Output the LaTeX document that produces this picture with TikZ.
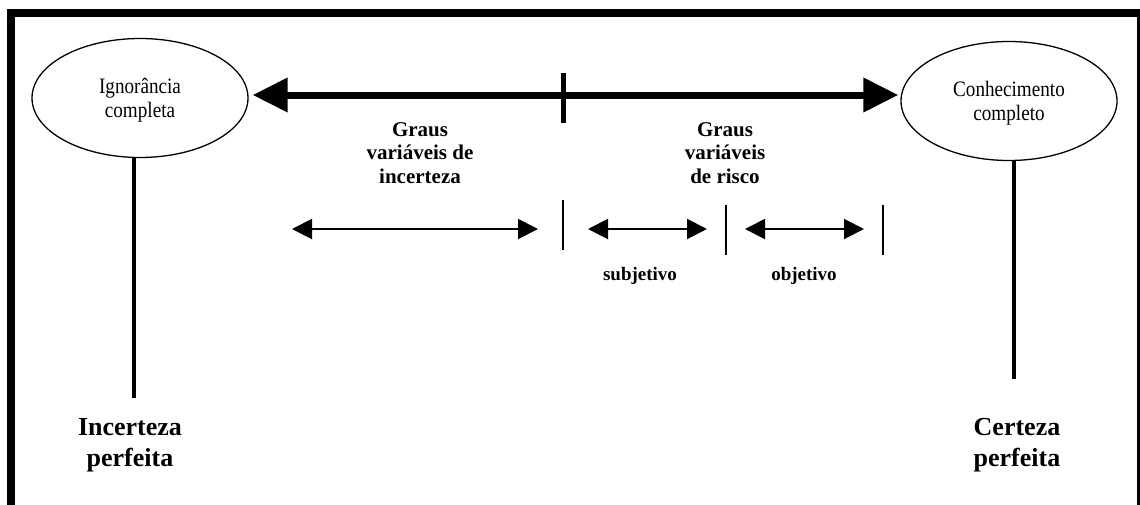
\documentclass[tikz,border=0pt]{standalone}
\usepackage{fontspec}
\setmainfont{Liberation Serif}
\newfontfamily\polefont[FakeStretch=0.87]{Liberation Serif}
\usetikzlibrary{arrows.meta,shapes.geometric}
\tikzset{
  x=1pt, y=-1pt,
  pole/.style={draw, ellipse, line width=1.3pt, minimum width=216pt,
    minimum height=119pt, inner sep=0pt},
  pole text/.style={align=center, anchor=base, inner sep=0pt,
    font=\polefont\fontsize{22}{24}\selectfont},
  scale label/.style={align=center, anchor=base, inner sep=0pt,
    font=\bfseries\fontsize{21}{23.3}\selectfont},
  end label/.style={align=center, anchor=base, inner sep=0pt,
    font=\bfseries\fontsize{26}{31}\selectfont},
  kind label/.style={anchor=base, inner sep=0pt,
    font=\bfseries\fontsize{19}{22}\selectfont},
  mainaxis/.style={line width=7pt,
    {Triangle[length=35pt,width=33pt]}-{Triangle[length=35pt,width=33pt]}},
  span/.style={line width=2pt,
    {Triangle[length=20pt,width=20pt]}-{Triangle[length=20pt,width=20pt]}},
  divider/.style={line width=2pt},
  stem/.style={line width=4pt},
}
\begin{document}
\begin{tikzpicture}
\useasboundingbox (0,0) rectangle (1140,504);
\clip (0,0) rectangle (1140,504);
\fill[white] (0,0) rectangle (1140,504);
% outer frame (runs past the lower edge)
\draw[line width=8pt] (11,13) rectangle (1141,520);

% the two poles
\node[pole] (ign) at (140,98) {};
\node[pole] (con) at (1009,101) {};
\node[pole text] (ignT) at (140,117) {Ignorância\\completa};
\node[pole text] (conT) at (1009,120) {Conhecimento\\completo};

% main scale between the poles
\draw[mainaxis] ([xshift=4pt,yshift=3pt]ign.east) -- ([xshift=-2pt,yshift=6pt]con.west);
\coordinate (midT) at (563,73);
\coordinate (midB) at (563,123);
\draw[line width=5pt] (midT) -- (midB);

% stems down to the end labels
\coordinate (ignS) at ([xshift=-6pt]ign.south);
\coordinate (ignE) at (134,398);
\draw[stem] (ignS) -- (ignE);
\coordinate (conS) at ([xshift=5pt]con.south);
\coordinate (conE) at (1014,379);
\draw[stem] (conS) -- (conE);

% end labels (anchored on the baseline of their last line)
\node[end label] (inc) at (130,466) {Incerteza\\perfeita};
\node[end label] (cer) at (1017,466) {Certeza\\perfeita};

% range labels
\node[scale label] (unc) at (420,183) {Graus\\variáveis de\\incerteza};
\node[scale label] (risk) at (725,183) {Graus\\variáveis\\de risco};

% sub-ranges
\coordinate (d1T) at (563,200); \coordinate (d1B) at (563,250);
\coordinate (d2T) at (726,205); \coordinate (d2B) at (726,255);
\coordinate (d3T) at (883,205); \coordinate (d3B) at (883,255);
\draw[divider] (d1T) -- (d1B);
\draw[divider] (d2T) -- (d2B);
\draw[divider] (d3T) -- (d3B);

\coordinate (a1L) at (292,229); \coordinate (a1R) at (538,229);
\coordinate (a2L) at (588,229); \coordinate (a2R) at (707,229);
\coordinate (a3L) at (745,229); \coordinate (a3R) at (864,229);
\draw[span] (a1L) -- (a1R);
\draw[span] (a2L) -- (a2R);
\draw[span] (a3L) -- (a3R);

\node[kind label] (subj) at (640,280) {subjetivo};
\node[kind label] (obj) at (804,280) {objetivo};
\end{tikzpicture}
\end{document}
